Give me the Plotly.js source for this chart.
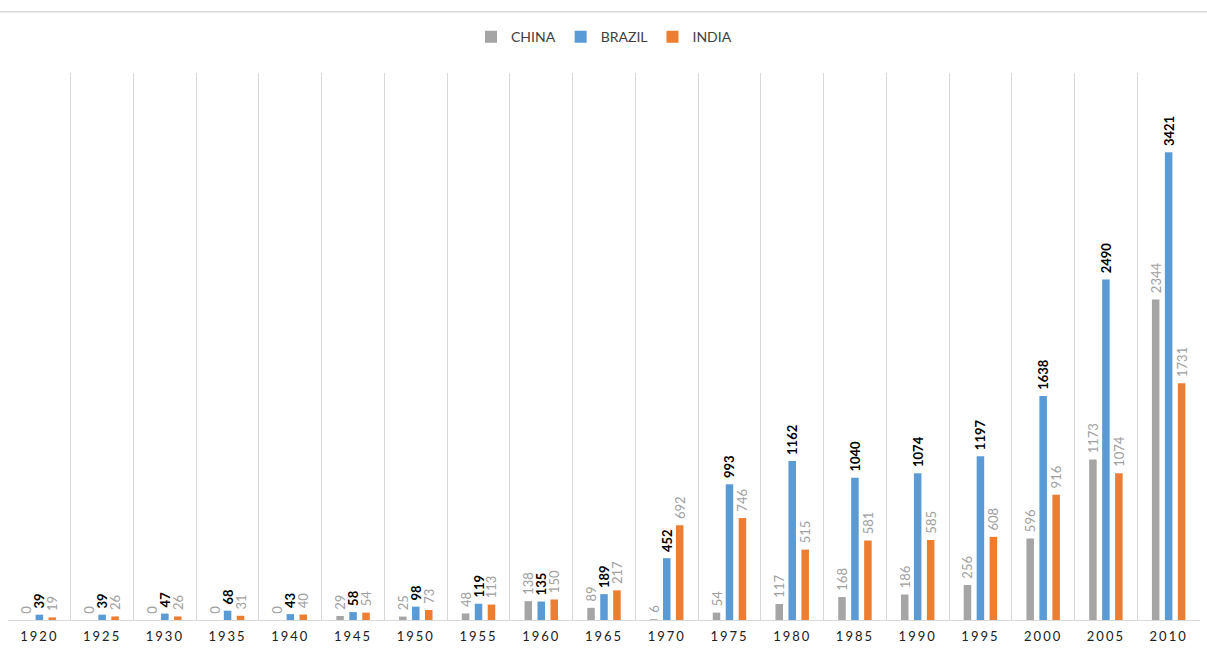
<!DOCTYPE html>
<html>
<head>
<meta charset="utf-8">
<script src="https://cdn.plot.ly/plotly-3.0.1.min.js"></script>
<style>
  html, body { margin: 0; padding: 0; background: #fff; }
  #chart { width: 1207px; height: 653px; }
  .xtick text { letter-spacing: 2px; }
</style>
</head>
<body>
<div id="chart"></div>
<script>
const years = ['1920','1925','1930','1935','1940','1945','1950','1955','1960','1965',
               '1970','1975','1980','1985','1990','1995','2000','2005','2010'];
const china  = [0, 0, 0, 0, 0, 29, 25, 48, 138, 89, 6, 54, 117, 168, 186, 256, 596, 1173, 2344];
const brazil = [39, 39, 47, 68, 43, 58, 98, 119, 135, 189, 452, 993, 1162, 1040, 1074, 1197, 1638, 2490, 3421];
const india  = [19, 26, 26, 31, 40, 54, 73, 113, 150, 217, 692, 746, 515, 581, 585, 608, 916, 1074, 1731];

const labelFont = 'Lato, "Open Sans", sans-serif';

function series(name, values, color, textColor, weight) {
  return {
    type: 'bar',
    name: name,
    x: years,
    y: values,
    marker: { color: color },
    // a leading no-break space lifts each rotated value label a little off its bar
    texttemplate: '\u00a0%{y}',
    textposition: 'outside',
    textangle: -90,
    constraintext: 'none',
    cliponaxis: false,
    textfont: { family: labelFont, size: 13, color: textColor, weight: weight },
    hoverinfo: 'x+y+name'
  };
}

const data = [
  series('CHINA',  china,  '#A5A5A5', '#A0A0A0', 'normal'),
  series('BRAZIL', brazil, '#5B9BD5', '#000000', 'bold'),
  series('INDIA',  india,  '#ED7D31', '#A0A0A0', 'normal')
];

const layout = {
  width: 1207,
  height: 653,
  margin: { l: 8, r: 7, t: 73, b: 33 },
  paper_bgcolor: '#ffffff',
  plot_bgcolor: '#ffffff',
  barmode: 'group',
  bargap: 0.38,
  bargroupgap: 0.42,
  showlegend: true,
  legend: {
    orientation: 'h',
    x: 0.5, xanchor: 'center',
    y: 0.943, yref: 'container', yanchor: 'middle',
    font: { family: labelFont, size: 14, color: '#404040' },
    itemwidth: 30,
    tracegroupgap: 0
  },
  xaxis: {
    type: 'category',
    tickson: 'boundaries',
    showgrid: true,
    gridcolor: '#D9D9D9',
    gridwidth: 1,
    showline: true,
    linecolor: '#D9D9D9',
    linewidth: 1,
    ticks: '',
    ticklabelstandoff: 4,
    tickfont: { family: labelFont, size: 13, color: '#202020' },
    fixedrange: true
  },
  yaxis: {
    range: [0, 4000],
    showgrid: false,
    zeroline: false,
    showticklabels: false,
    ticks: '',
    fixedrange: true
  },
  shapes: [
    { type: 'line', xref: 'paper', yref: 'paper', x0: -0.01, x1: 1.01, y0: 1.112, y1: 1.112,
      line: { color: '#D9D9D9', width: 1.5 } }
  ]
};

Plotly.newPlot('chart', data, layout, { displayModeBar: false, staticPlot: true });
</script>
</body>
</html>
